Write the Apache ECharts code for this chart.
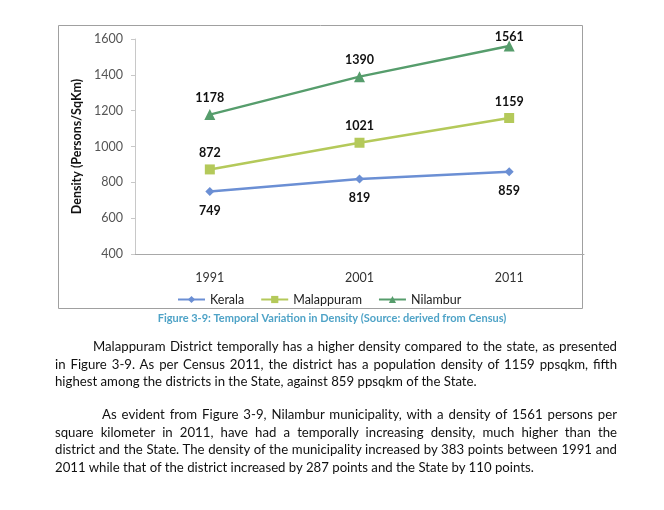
<!DOCTYPE html>
<html>
<head>
<meta charset="utf-8">
<script src="https://cdn.jsdelivr.net/npm/echarts@6/dist/echarts.min.js"></script>
<style>
  html, body { margin: 0; padding: 0; background: #fff; }
  #chart { position: absolute; left: 0; top: 0; width: 664px; height: 510px; }
  .para { position: absolute; left: 55px; width: 562px; font-family: Lato, "Open Sans", sans-serif;
          font-size: 13.2px; color: #111; line-height: 17.5px; }
  .para div { text-align: justify; text-align-last: justify; white-space: nowrap; }
  .para div.last { text-align-last: left; }
</style>
</head>
<body>
<div id="chart"></div>
<div class="para" style="top:338px">
  <div style="padding-left:38px">Malappuram District temporally has a higher density compared to the state, as presented</div>
  <div>in Figure 3-9. As per Census 2011, the district has a population density of 1159 ppsqkm, fifth</div>
  <div class="last">highest among the districts in the State, against 859 ppsqkm of the State.</div>
</div>
<div class="para" style="top:406px">
  <div style="padding-left:47px">As evident from Figure 3-9, Nilambur municipality, with a density of 1561 persons per</div>
  <div>square kilometer in 2011, have had a temporally increasing density, much higher than the</div>
  <div>district and the State. The density of the municipality increased by 383 points between 1991 and</div>
  <div class="last">2011 while that of the district increased by 287 points and the State by 110 points.</div>
</div>
<script>
const years = ['1991', '2001', '2011'];
const kerala = [749, 819, 859];
const malappuram = [872, 1021, 1159];
const nilambur = [1178, 1390, 1561];
const seriesNames = ['Kerala', 'Malappuram', 'Nilambur'];
const yTicks = { min: 400, max: 1600, interval: 200 };

const font = 'Lato, "Open Sans", sans-serif';
const chart = echarts.init(document.getElementById('chart'), null, { renderer: 'canvas' });

const labelStyle = { show: true, color: '#111', fontWeight: 'bold', fontSize: 12.5, fontFamily: font };

// keep labels inside the chart frame (the top one gets pushed down like in Excel)
const keepInFrame = (params) => {
  const top = params.labelRect.y;
  return top < 30 ? { dy: 30 - top } : {};
};

chart.setOption({
  animation: false,
  backgroundColor: '#fff',
  grid: { left: 135, right: 80, top: 39, bottom: 256 },
  legend: {
    data: seriesNames,
    top: 288,
    left: 172,
    itemWidth: 27,
    itemHeight: 9,
    itemGap: 16,
    textStyle: { color: '#222', fontSize: 12.5, fontFamily: font }
  },
  xAxis: {
    type: 'category',
    data: years,
    boundaryGap: true,
    axisLine: { lineStyle: { color: '#a8a8a8' } },
    axisTick: { show: false },
    axisLabel: { color: '#333', fontSize: 12.5, fontFamily: font, margin: 17 }
  },
  yAxis: {
    type: 'value',
    min: yTicks.min,
    max: yTicks.max,
    interval: yTicks.interval,
    name: 'Density (Persons/SqKm)',
    nameLocation: 'middle',
    nameGap: 48,
    nameTextStyle: { color: '#111', fontWeight: 'bold', fontSize: 12.5, fontFamily: font },
    axisLine: { show: true, lineStyle: { color: '#c8c8c8' } },
    axisTick: { show: true, length: 4, lineStyle: { color: '#c8c8c8' } },
    splitLine: { show: false },
    axisLabel: { color: '#555', fontSize: 12.5, fontFamily: font, margin: 12, formatter: (v) => String(v) }
  },
  graphic: [
    {
      type: 'rect',
      shape: { x: 58.5, y: 25.5, width: 524, height: 283 },
      style: { fill: 'none', stroke: '#a0a0a0', lineWidth: 1 },
      silent: true
    },
    {
      type: 'text',
      left: 'center',
      top: 313,
      style: {
        text: 'Figure 3-9: Temporal Variation in Density (Source: derived from Census)',
        fill: '#4fa3c7',
        font: 'bold 11px ' + font
      }
    }
  ],
  series: [
    {
      name: seriesNames[0],
      type: 'line',
      data: kerala,
      symbol: 'diamond',
      symbolSize: 9,
      color: '#6b8fd4',
      lineStyle: { width: 2.5 },
      label: Object.assign({ position: 'bottom', distance: 8 }, labelStyle)
    },
    {
      name: seriesNames[1],
      type: 'line',
      data: malappuram,
      symbol: 'rect',
      symbolSize: 10,
      color: '#b4c95a',
      lineStyle: { width: 2.5 },
      label: Object.assign({ position: 'top', distance: 5 }, labelStyle)
    },
    {
      name: seriesNames[2],
      type: 'line',
      data: nilambur,
      symbol: 'triangle',
      symbolSize: 11,
      color: '#569d6c',
      lineStyle: { width: 2.5 },
      label: Object.assign({ position: 'top', distance: 5 }, labelStyle),
      labelLayout: keepInFrame
    }
  ]
});
</script>
</body>
</html>
